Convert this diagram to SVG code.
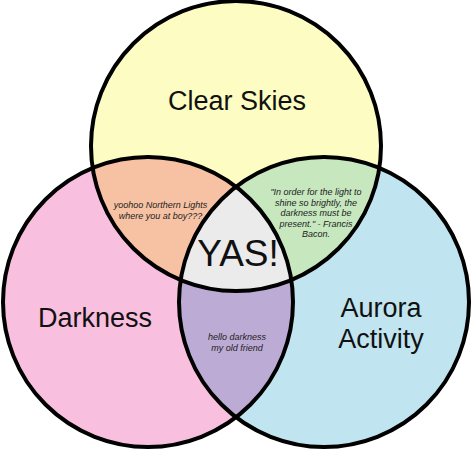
<svg xmlns="http://www.w3.org/2000/svg" width="474" height="450" viewBox="0 0 474 450">
<style>
.ring{fill:none;stroke:#000;stroke-width:4}
.big{font-family:"Liberation Sans",Arial,sans-serif;font-size:27px;fill:#111;text-anchor:middle}
.yas{font-family:"Liberation Sans",Arial,sans-serif;font-size:37px;fill:#111;text-anchor:middle}
.small{font-family:"Liberation Sans",Arial,sans-serif;font-size:9px;font-style:italic;fill:#222;text-anchor:middle}
</style>
<defs>
<clipPath id="cTop"><circle cx="236" cy="146" r="145"/></clipPath>
<clipPath id="cLeft"><circle cx="148" cy="302" r="145"/></clipPath>
<clipPath id="cRight"><circle cx="324" cy="302" r="145"/></clipPath>
</defs>
<rect width="474" height="450" fill="#fff"/>
<g id="fills">
<circle cx="236" cy="146" r="145" fill="#fdfdc3"/>
<circle cx="148" cy="302" r="145" fill="#f9bfdf"/>
<circle cx="324" cy="302" r="145" fill="#c1e5f0"/>
<g clip-path="url(#cTop)"><circle cx="148" cy="302" r="145" fill="#f7c2a3"/></g>
<g clip-path="url(#cTop)"><circle cx="324" cy="302" r="145" fill="#c7e7bf"/></g>
<g clip-path="url(#cLeft)"><circle cx="324" cy="302" r="145" fill="#bcabd5"/></g>
<g clip-path="url(#cTop)"><g clip-path="url(#cLeft)"><circle cx="324" cy="302" r="145" fill="#ebebeb"/></g></g>
</g>
<g id="connectors">
<circle class="ring" cx="236" cy="146" r="145"/>
<circle class="ring" cx="148" cy="302" r="145"/>
<circle class="ring" cx="324" cy="302" r="145"/>
</g>
<g id="clear-skies"><text class="big" x="237" y="110">Clear Skies</text></g>
<g id="darkness"><text class="big" x="95" y="327">Darkness</text></g>
<g id="aurora"><text class="big" x="381" y="317">Aurora</text><text class="big" x="381" y="348">Activity</text></g>
<g id="yas"><text class="yas" x="238" y="266">YAS!</text></g>
<g id="northern"><text class="small" x="160.5" y="208">yoohoo Northern Lights</text><text class="small" x="160.5" y="219">where you at boy???</text></g>
<g id="bacon"><text class="small" x="316" y="195">"In order for the light to</text><text class="small" x="316" y="205.5">shine so brightly, the</text><text class="small" x="316" y="216">darkness must be</text><text class="small" x="316" y="226.5">present." - Francis</text><text class="small" x="316" y="237">Bacon.</text></g>
<g id="hello"><text class="small" x="237" y="340">hello darkness</text><text class="small" x="237" y="351">my old friend</text></g>
</svg>
